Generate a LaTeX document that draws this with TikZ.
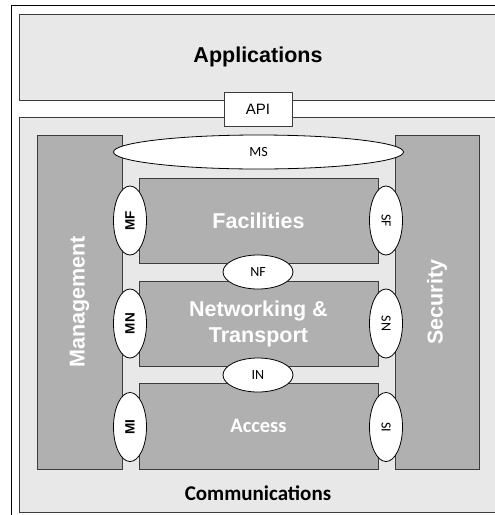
\documentclass[tikz,border=0pt]{standalone}
\usepackage{fontspec}
\usetikzlibrary{shapes.geometric}
\newfontfamily\lsans{Liberation Sans}
\newfontfamily\carl{Carlito}
\definecolor{lightbg}{HTML}{E8E8E8}
\definecolor{darkbox}{HTML}{B0B0B0}
\definecolor{edge}{HTML}{3C3C3C}
\tikzset{
  layer/.style={draw=edge, line width=0.8pt, fill=lightbg, rectangle, inner sep=0pt},
  block/.style={draw=edge, line width=0.8pt, fill=darkbox, rectangle, inner sep=0pt,
     text=white, font=\lsans\bfseries\fontsize{21.5}{26}\selectfont, align=center},
  iface/.style={draw=black, line width=0.8pt, fill=white, ellipse, inner sep=0pt},
  vface/.style={iface, minimum width=69pt, minimum height=33pt},
  mlabel/.style={font=\lsans\bfseries\fontsize{13.5}{16}\selectfont},
  slabel/.style={font=\carl\fontsize{14}{16}\selectfont},
}
\begin{document}
\begin{tikzpicture}[x=1pt,y=-1pt]
\useasboundingbox (0,0) rectangle (495,515);
\clip (0,0) rectangle (495,515);
\fill[white] (0,0) rectangle (495,515);
% outer frame
\draw[black, line width=0.8pt] (11,5) rectangle (510,530);
% applications
\node[layer, minimum width=478pt, minimum height=86pt,
      font=\lsans\bfseries\fontsize{21.5}{26}\selectfont] (app) at (258,57) {Applications};
% communications
\node[layer, minimum width=478pt, minimum height=395pt] (comm) at (258,314.5) {};
\node[font=\carl\bfseries\fontsize{21}{25}\selectfont, inner sep=0pt] (commlbl) at (258,493) {Communications};
% api
\node[draw=edge, line width=0.8pt, fill=white, minimum width=68pt, minimum height=34pt,
      inner sep=0pt, font=\lsans\fontsize{15}{18}\selectfont] (api) at (258,109) {API};
% side blocks
\node[block, minimum width=334pt, minimum height=85pt, rotate=90] (mgmt) at (79.5,302) {Management};
\node[block, minimum width=334pt, minimum height=84pt, rotate=90] (sec) at (437,302) {Security};
% inner blocks
\node[block, minimum width=239pt, minimum height=85pt] (fac) at (258.5,220.5) {Facilities};
\node[block, minimum width=239pt, minimum height=85pt] (net) at (258.5,323.5) {Networking \&\\Transport};
\node[block, minimum width=239pt, minimum height=86pt, font=\carl\bfseries\fontsize{20.5}{24}\selectfont] (acc) at (258.5,426) {Access};
% horizontal interfaces
\node[iface, minimum width=290pt, minimum height=34pt, slabel] (ms) at (258.5,152) {MS};
\node[iface, minimum width=70pt, minimum height=34pt, slabel] (nf) at (258,272) {NF};
\node[iface, minimum width=70pt, minimum height=34pt, slabel] (in) at (258,375) {IN};
% vertical interfaces
\node[vface, rotate=90, mlabel] (mf) at (130,220.5) {MF};
\node[vface, rotate=90, mlabel] (mn) at (130,323.5) {MN};
\node[vface, rotate=90, mlabel] (mi) at (130,427) {MI};
\node[vface, rotate=-90, slabel] (sf) at (386,220.5) {SF};
\node[vface, rotate=-90, slabel] (sn) at (386,323.5) {SN};
\node[vface, rotate=-90, slabel] (si) at (386,427) {SI};
\end{tikzpicture}
\end{document}
